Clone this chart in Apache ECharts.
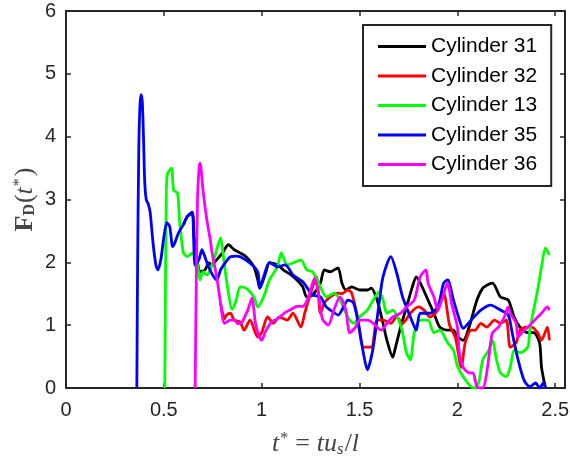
<!DOCTYPE html>
<html>
<head>
<meta charset="utf-8">
<script src="https://cdn.jsdelivr.net/npm/echarts@6/dist/echarts.min.js"></script>
<style>
  html, body { margin: 0; padding: 0; background: #fff; }
  #chart { width: 570px; height: 460px; }
</style>
</head>
<body>
<div id="chart"></div>
<script>
// Drag force histories F_D(t*) for five cylinders, as [t*, F_D] pairs.
const seriesNames = ['Cylinder 31', 'Cylinder 32', 'Cylinder 13', 'Cylinder 35', 'Cylinder 36'];
const seriesColors = ['#000000', '#ff0000', '#00ff00', '#0000ff', '#ff00ff'];

const cyl31 = [[0.6,2.6],[0.62,2.73],[0.645,2.8],[0.655,2.4],[0.67,2.04],[0.685,1.85],[0.71,1.88],[0.73,1.99],[0.745,1.96],[0.77,2.04],[0.8,2.15],[0.83,2.28],[0.86,2.2],[0.89,2.15],[0.92,2.09],[0.96,1.93],[0.98,1.72],[0.99,1.59],[1.02,1.83],[1.04,1.99],[1.08,1.96],[1.11,1.88],[1.15,1.8],[1.18,1.72],[1.21,1.61],[1.23,1.45],[1.26,1.48],[1.3,1.67],[1.32,1.88],[1.35,1.85],[1.39,1.91],[1.41,1.67],[1.43,1.56],[1.46,1.61],[1.5,1.56],[1.54,1.56],[1.56,1.59],[1.59,1.4],[1.62,1.03],[1.64,0.76],[1.67,0.49],[1.68,0.6],[1.71,0.97],[1.74,1.29],[1.77,1.61],[1.79,1.77],[1.82,1.61],[1.85,1.4],[1.88,1.19],[1.91,0.97],[1.95,0.92],[1.98,0.92],[2.0,0.82],[2.03,0.76],[2.06,0.97],[2.1,1.4],[2.13,1.59],[2.16,1.65],[2.18,1.67],[2.22,1.45],[2.26,1.4],[2.29,1.13],[2.32,0.97],[2.36,0.88],[2.39,0.88],[2.42,0.72],[2.43,0.33],[2.45,0.0]];

const cyl32 = [[0.79,1.35],[0.81,1.1],[0.82,1.16],[0.84,1.19],[0.86,1.08],[0.89,1.05],[0.91,0.92],[0.94,1.08],[0.98,0.81],[1.0,0.88],[1.03,1.13],[1.06,1.03],[1.09,1.13],[1.13,1.08],[1.16,1.19],[1.2,0.97],[1.22,1.19],[1.25,1.51],[1.28,1.77],[1.3,1.19],[1.32,1.35],[1.35,1.45],[1.39,1.51],[1.41,1.5],[1.44,1.56],[1.46,1.51],[1.49,1.13],[1.52,0.65],[1.56,0.65],[1.59,1.08],[1.62,1.08],[1.66,1.03],[1.69,1.13],[1.72,1.03],[1.76,1.19],[1.8,1.29],[1.83,1.24],[1.86,1.13],[1.9,1.24],[1.93,1.51],[1.96,1.0],[1.99,0.8],[2.02,0.33],[2.04,0.72],[2.07,0.92],[2.09,0.92],[2.12,1.03],[2.15,0.97],[2.19,1.08],[2.22,1.03],[2.25,1.08],[2.27,0.65],[2.3,0.72],[2.32,0.92],[2.35,0.97],[2.38,0.97],[2.41,0.88],[2.43,0.76],[2.46,0.97],[2.47,0.76]];

const cyl13 = [[0.505,0],[0.508,1.5],[0.512,3.0],[0.517,3.39],[0.53,3.47],[0.54,3.5],[0.55,3.15],[0.57,3.1],[0.58,2.67],[0.6,2.15],[0.62,2.09],[0.645,2.15],[0.67,1.99],[0.685,1.72],[0.7,1.85],[0.72,1.8],[0.74,1.9],[0.76,2.09],[0.79,2.39],[0.8,2.2],[0.82,1.72],[0.85,1.25],[0.87,1.4],[0.89,1.61],[0.92,1.59],[0.96,1.45],[0.98,1.29],[1.01,1.45],[1.04,1.72],[1.08,1.93],[1.1,2.15],[1.13,1.96],[1.16,1.99],[1.2,2.04],[1.23,1.88],[1.26,1.85],[1.3,1.61],[1.33,1.45],[1.37,1.51],[1.4,1.4],[1.44,1.13],[1.47,1.03],[1.5,1.13],[1.54,1.24],[1.57,1.4],[1.6,1.53],[1.62,1.4],[1.64,1.19],[1.67,1.24],[1.7,1.08],[1.72,0.88],[1.74,0.56],[1.76,0.45],[1.78,0.88],[1.81,1.08],[1.85,1.08],[1.88,0.88],[1.91,0.92],[1.95,0.72],[1.98,0.6],[2.0,0.35],[2.03,0.18],[2.07,0.02],[2.09,0],[2.11,0.1],[2.13,0.45],[2.16,0.6],[2.18,0.76],[2.2,0.45],[2.22,0.24],[2.25,0.18],[2.27,0.33],[2.29,0.6],[2.32,0.56],[2.36,0.65],[2.37,0.92],[2.4,1.4],[2.41,1.56],[2.43,1.93],[2.45,2.23],[2.47,2.12]];

const cyl35 = [[0.362,0],[0.366,2.0],[0.372,3.8],[0.378,4.5],[0.384,4.67],[0.39,4.55],[0.396,4.0],[0.402,3.3],[0.41,3.0],[0.42,2.93],[0.43,2.8],[0.445,2.3],[0.46,1.95],[0.47,1.88],[0.485,2.05],[0.5,2.4],[0.515,2.63],[0.53,2.57],[0.545,2.25],[0.555,2.3],[0.575,2.47],[0.6,2.6],[0.62,2.73],[0.645,2.78],[0.652,2.4],[0.66,1.95],[0.68,2.05],[0.695,2.2],[0.715,2.04],[0.74,1.85],[0.77,1.72],[0.79,1.88],[0.815,2.0],[0.84,2.09],[0.87,2.1],[0.89,2.09],[0.94,1.99],[0.98,1.85],[0.99,1.59],[1.01,1.77],[1.04,2.0],[1.08,1.93],[1.12,1.96],[1.16,1.8],[1.21,1.69],[1.26,1.48],[1.3,1.45],[1.33,1.29],[1.37,1.2],[1.39,1.16],[1.42,1.3],[1.44,1.4],[1.47,1.35],[1.5,0.92],[1.52,0.55],[1.54,0.29],[1.57,0.65],[1.6,1.35],[1.62,1.77],[1.66,2.09],[1.69,1.83],[1.72,1.45],[1.76,1.13],[1.79,0.92],[1.81,1.19],[1.86,1.19],[1.9,1.29],[1.93,1.67],[1.95,1.72],[1.98,1.4],[2.0,1.19],[2.03,0.95],[2.07,1.08],[2.12,1.24],[2.17,1.32],[2.22,1.24],[2.26,1.16],[2.28,0.88],[2.31,0.45],[2.34,0.13],[2.37,0.02],[2.4,0.08],[2.42,0.0],[2.44,0.08],[2.45,0]];

const cyl36 = [[0.66,0],[0.665,1.5],[0.672,3.0],[0.68,3.5],[0.685,3.58],[0.69,3.5],[0.7,3.15],[0.72,2.67],[0.735,2.4],[0.75,2.09],[0.77,1.77],[0.79,1.35],[0.81,1.03],[0.84,1.08],[0.86,1.08],[0.88,1.02],[0.9,1.05],[0.93,1.25],[0.95,1.43],[0.97,1.0],[1.0,0.76],[1.02,0.9],[1.05,1.05],[1.08,1.1],[1.12,1.2],[1.15,1.25],[1.18,1.3],[1.21,1.3],[1.24,1.45],[1.27,1.75],[1.29,1.5],[1.31,1.1],[1.34,1.0],[1.37,1.25],[1.4,1.45],[1.43,1.24],[1.45,0.88],[1.48,0.97],[1.5,1.08],[1.54,1.08],[1.57,1.03],[1.61,0.92],[1.64,1.03],[1.67,1.13],[1.71,1.19],[1.74,1.29],[1.78,1.4],[1.81,1.77],[1.84,1.88],[1.85,1.67],[1.88,1.45],[1.9,1.24],[1.92,1.4],[1.95,1.67],[1.97,1.35],[2.0,0.97],[2.01,0.56],[2.03,0.33],[2.06,0.24],[2.08,0.24],[2.1,0.02],[2.13,0],[2.15,0.24],[2.17,0.72],[2.18,0.88],[2.21,0.97],[2.24,1.13],[2.26,1.29],[2.27,1.19],[2.3,1.03],[2.31,0.81],[2.33,0.88],[2.36,0.97],[2.38,1.03],[2.41,1.13],[2.43,1.19],[2.46,1.29],[2.47,1.24]];

const seriesData = [cyl31, cyl32, cyl13, cyl35, cyl36];

// Axis ranges and tick spacing
const xRange = [0, 2.55];
const xStep = 0.5;
const yRange = [0, 6];
const yStep = 1;

const axisColor = '#262626';
const tickFont = { fontFamily: 'Liberation Sans, Arial, sans-serif', fontSize: 20, color: '#262626' };

const serif = 'Liberation Serif, DejaVu Serif, serif';
const titleColor = '#444';

function boxAxis(extra) {
  return Object.assign({
    type: 'value',
    nameMoveOverlap: false,
    axisLine: { show: true, onZero: false, lineStyle: { color: axisColor, width: 2 } },
    axisTick: { show: true, inside: true, length: 5, lineStyle: { color: axisColor, width: 1.5 } },
    splitLine: { show: false },
    minorTick: { show: false }
  }, extra);
}

const chart = echarts.init(document.getElementById('chart'), null, { renderer: 'canvas' });

chart.setOption({
  animation: false,
  backgroundColor: '#ffffff',
  grid: { left: 66, right: 5, top: 11, bottom: 72, containLabel: false, outerBoundsMode: 'none' },
  legend: {
    data: seriesNames,
    orient: 'vertical',
    left: 363,
    top: 25,
    backgroundColor: '#ffffff',
    borderColor: '#262626',
    borderWidth: 2,
    borderRadius: 0,
    padding: [11, 14, 11, 15],
    itemGap: 8.5,
    itemWidth: 48,
    itemHeight: 3,
    icon: 'rect',
    textStyle: { fontFamily: 'Liberation Sans, Arial, sans-serif', fontSize: 21, color: '#000' }
  },
  xAxis: [
    boxAxis({
      min: xRange[0], max: xRange[1], interval: xStep,
      position: 'bottom',
      axisLabel: Object.assign({ margin: 12, formatter: v => (v > 2.5 ? '' : String(v)) }, tickFont),
      name: '{i|t}{sup|*}{n|=}{i|tu}{sub|s}{n2|/}{i|l}',
      nameLocation: 'middle',
      nameGap: 43,
      nameTextStyle: {
        color: titleColor,
        rich: {
          i: { fontFamily: serif, fontStyle: 'italic', fontSize: 26, color: titleColor },
          n: { fontFamily: serif, fontSize: 26, color: titleColor, padding: [0, 7, 0, 7] },
          n2: { fontFamily: serif, fontSize: 26, color: titleColor },
          sup: { fontFamily: serif, fontSize: 16, color: titleColor, verticalAlign: 'top', padding: [0, 0, 10, 1] },
          sub: { fontFamily: serif, fontStyle: 'italic', fontSize: 17, color: titleColor, verticalAlign: 'bottom', padding: [10, 1, 0, 0] }
        }
      }
    }),
    boxAxis({
      min: xRange[0], max: xRange[1], interval: xStep,
      position: 'top',
      axisLabel: { show: false }
    })
  ],
  yAxis: [
    boxAxis({
      min: yRange[0], max: yRange[1], interval: yStep,
      position: 'left',
      axisLabel: Object.assign({ margin: 10 }, tickFont),
      name: '{b|F}{bs|D}{n|(}{i|t}{sup|*}{n|)}',
      nameLocation: 'middle',
      nameGap: 28,
      nameTextStyle: {
        color: titleColor,
        rich: {
          b: { fontFamily: serif, fontWeight: 'bold', fontSize: 26, color: titleColor },
          bs: { fontFamily: serif, fontWeight: 'bold', fontSize: 16, color: titleColor, verticalAlign: 'bottom', padding: [10, 1, 0, 0] },
          i: { fontFamily: serif, fontStyle: 'italic', fontSize: 26, color: titleColor },
          n: { fontFamily: serif, fontSize: 26, color: titleColor },
          sup: { fontFamily: serif, fontSize: 16, color: titleColor, verticalAlign: 'top', padding: [0, 2, 10, 1] }
        }
      }
    }),
    boxAxis({
      min: yRange[0], max: yRange[1], interval: yStep,
      position: 'right',
      axisLabel: { show: false }
    })
  ],
  series: seriesNames.map((name, k) => ({
    name: name,
    type: 'line',
    xAxisIndex: 0,
    yAxisIndex: 0,
    data: seriesData[k],
    showSymbol: false,
    smooth: 0.25,
    clip: true,
    color: seriesColors[k],
    lineStyle: { color: seriesColors[k], width: 2.8 },
    emphasis: { disabled: true }
  }))
});
</script>
</body>
</html>
